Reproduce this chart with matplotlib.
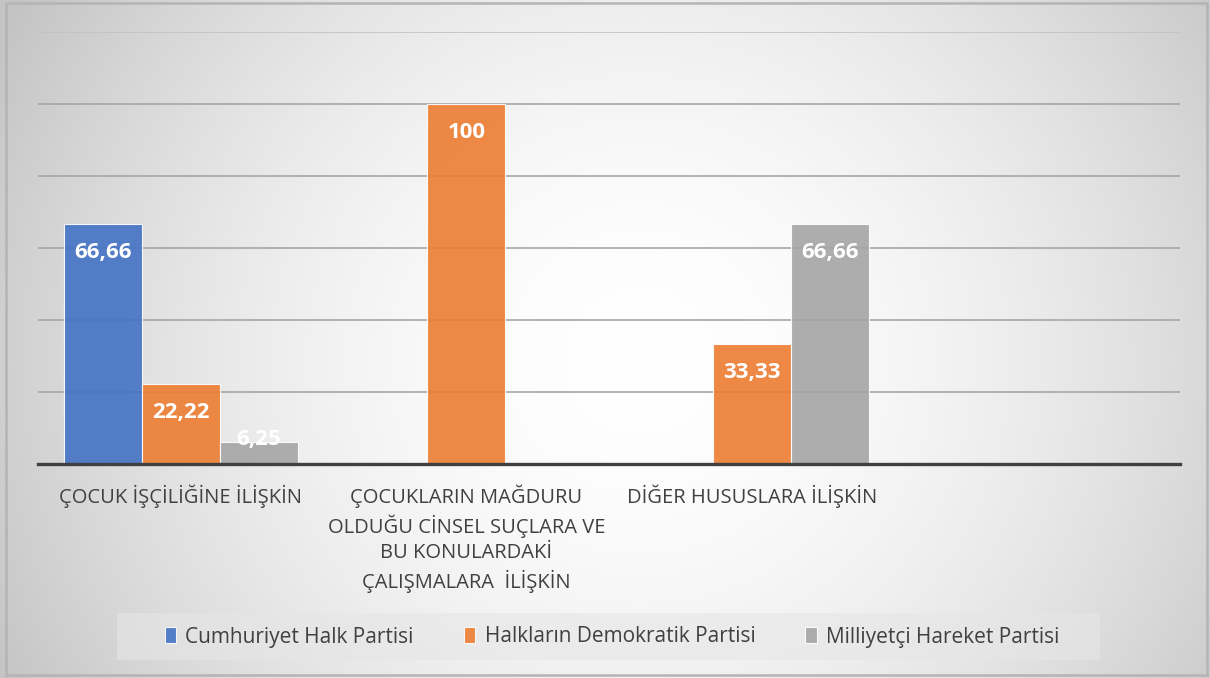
import numpy as np
import matplotlib
matplotlib.use("Agg")
import matplotlib.pyplot as plt
from matplotlib.patches import Rectangle

plt.rcParams['font.family'] = ['Open Sans', 'DejaVu Sans']

categories = ["ÇOCUK İŞÇİLİĞİNE İLİŞKİN",
              "ÇOCUKLARIN MAĞDURU\nOLDUĞU CİNSEL SUÇLARA VE\nBU KONULARDAKİ\nÇALIŞMALARA  İLİŞKİN",
              "DİĞER HUSUSLARA İLİŞKİN",
              ""]
series_names = ["Cumhuriyet Halk Partisi", "Halkların Demokratik Partisi", "Milliyetçi Hareket Partisi"]
chp = [66.66, 0, 0, 0]
hdp = [22.22, 100, 33.33, 0]
mhp = [6.25, 0, 66.66, 0]
colors = ["#4472C4", "#ED7D31", "#A5A5A5"]

W, H = 1210, 678
fig = plt.figure(figsize=(W / 100, H / 100), dpi=100)

# background: soft radial gradient
bg = fig.add_axes([0, 0, 1, 1], zorder=-10)
yy, xx = np.mgrid[0:H, 0:W]
t = np.sqrt(((xx - 640) / 720.0) ** 2 + ((yy - 360) / 700.0) ** 2)
t = np.clip(t, 0, 1)
shade = 255 - 59 * t ** 1.8
img = np.dstack([shade, shade, shade]) / 255.0
bg.imshow(img, aspect='auto', extent=[0, W, H, 0])
bg.set_xlim(0, W)
bg.set_ylim(H, 0)
bg.axis('off')
bg.add_patch(Rectangle((6, 3), W - 9, H - 6, fill=False, edgecolor='#b4b4b4', lw=1.8))
# legend box
bg.add_patch(Rectangle((117, 613), 983, 47, facecolor='#e6e6e6', alpha=0.6, edgecolor='none'))

ax = fig.add_axes([38 / W, 1 - 464 / H, (1180 - 38) / W, (464 - 32) / H])
ax.set_facecolor('none')

x = np.arange(len(categories))
w = 0.273
bars = []
for i, (vals, name, c) in enumerate(zip([chp, hdp, mhp], series_names, colors)):
    b = ax.bar(x + (i - 1) * w, vals, width=w, color=c, alpha=0.9, label=name,
               edgecolor=(1, 1, 1, 0.5), linewidth=0.8, zorder=2)
    bars.append(b)
    for xi, v in zip(x, vals):
        if v == 0:
            continue
        ypos = v - 8 if v > 16 else v + 0.5
        ax.text(xi + (i - 1) * w, ypos, f"{v:g}".replace('.', ','), ha='center', va='center',
                color='white', fontsize=16, fontweight='bold', zorder=3)

ax.set_xlim(-0.5, len(categories) - 0.5)
ax.set_ylim(0, 120)
ax.set_yticks(range(0, 121, 20))
ax.yaxis.grid(True, color='#a6a6a6', lw=1.2, zorder=0)
ax.get_ygridlines()[-1].set_color('#c2c2c2')
ax.set_axisbelow(True)
ax.tick_params(left=False, labelleft=False, bottom=False)
for s in ['left', 'right', 'top']:
    ax.spines[s].set_visible(False)
ax.spines['bottom'].set_color('#404040')
ax.spines['bottom'].set_linewidth(2.4)
ax.spines['bottom'].set_zorder(4)
ax.set_xticks(x)
ax.set_xticklabels(categories, fontsize=14.5, color='#404040', linespacing=1.36)
ax.tick_params(axis='x', pad=11)

fig.legend(handles=bars, labels=series_names, loc='center', bbox_to_anchor=(612 / W, 1 - 637 / H),
           ncol=3, frameon=False, fontsize=15, labelcolor='#404040',
           handlelength=0.55, handleheight=0.8, handletextpad=0.45, columnspacing=2.4)

fig.savefig("out.png", dpi=100)
